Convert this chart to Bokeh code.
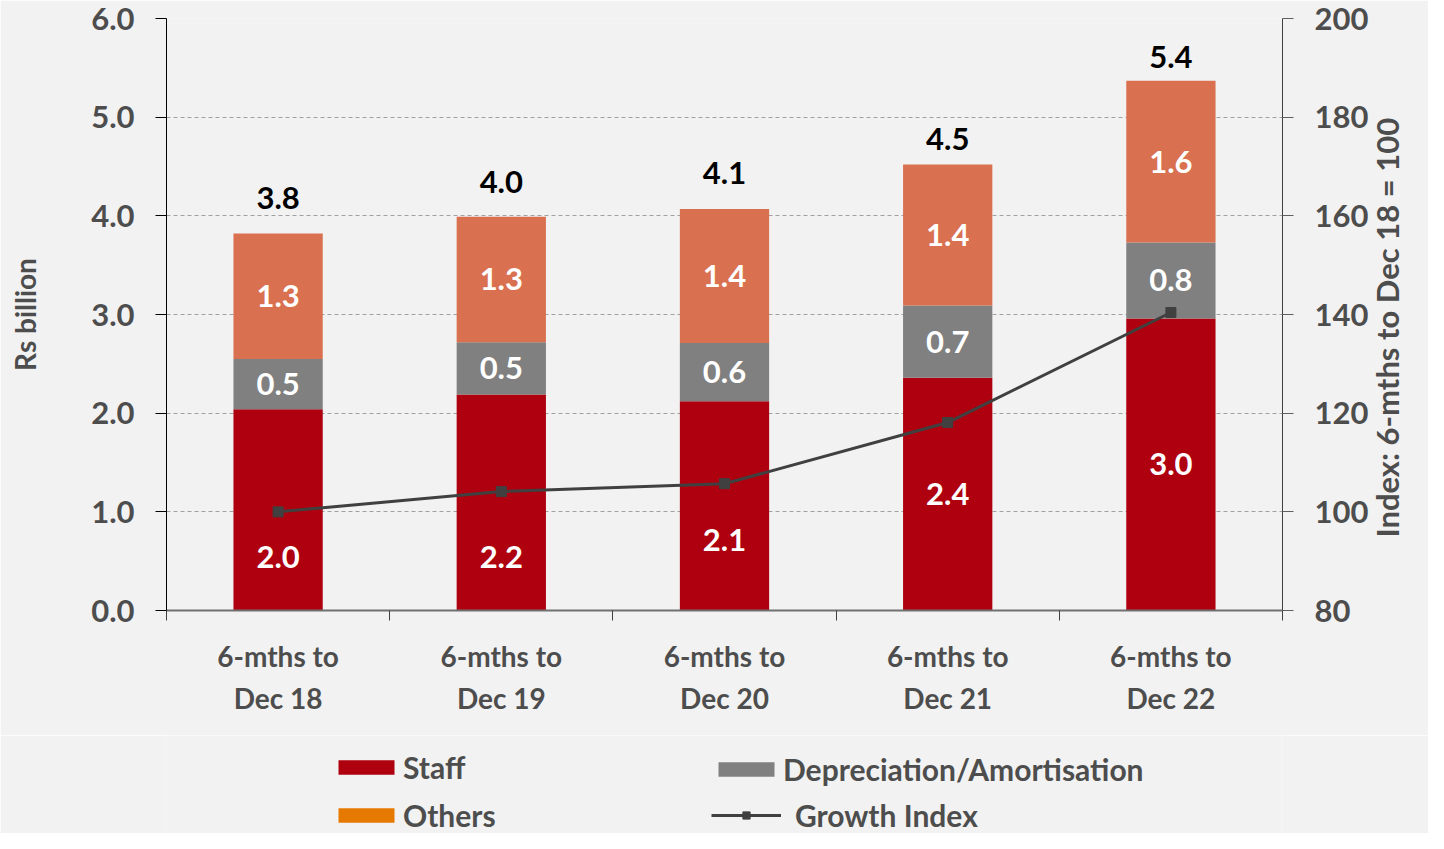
import math
from bokeh.plotting import figure
from bokeh.layouts import column
from bokeh.models import (Range1d, LinearAxis, FixedTicker, ColumnDataSource,
                          Legend, LegendItem)
from bokeh.embed import file_html
from bokeh.resources import INLINE
from bokeh.core.properties import value

# ---------------- data ----------------
categories = ["6-mths to\nDec 18", "6-mths to\nDec 19", "6-mths to\nDec 20",
              "6-mths to\nDec 21", "6-mths to\nDec 22"]
staff = [2.04, 2.19, 2.12, 2.36, 2.96]
depreciation = [0.51, 0.53, 0.59, 0.73, 0.77]
others = [1.27, 1.27, 1.36, 1.43, 1.64]
growth_index = [100.0, 104.1, 105.7, 118.1, 140.4]
left_ticks = [0, 1, 2, 3, 4, 5, 6]
right_ticks = [80, 100, 120, 140, 160, 180, 200]
right_title = "Index: 6-mths to Dec 18 = 100"
legend_labels = ["Staff", "Others", "Depreciation/Amortisation", "Growth Index"]

# ---------------- styles ----------------
FONT = "Lato"
BG = "#F2F2F2"
C_STAFF = "#AE000E"
C_DEP = "#808080"
C_OTH = "#D97150"
C_OTH_LEG = "#E67A00"
C_LINE = "#404040"
C_TXT = "#4D4D4D"
staff_label_y = [0.54, 0.54, 0.71, 1.18, 1.48]   # label placement (data units)
total_label_offset = [36, 35, 36, 26, 24]        # px above the bar top
right_title_start = 94.8                          # where the rotated title begins
NUM_SIZE = "31px"

n = len(categories)
xs = [i + 0.5 for i in range(n)]
s_top = staff
d_top = [a + b for a, b in zip(staff, depreciation)]
o_top = [a + b for a, b in zip(d_top, others)]

W_TOTAL, H_MAIN, H_LEG = 1428, 735, 98

p = figure(width=W_TOTAL, height=H_MAIN, output_backend="svg", toolbar_location=None,
           x_range=Range1d(0, n), y_range=Range1d(0, 6),
           background_fill_color=BG, border_fill_color=BG,
           outline_line_color=None,
           min_border_left=166, min_border_right=145,
           min_border_top=18, min_border_bottom=H_MAIN - 610)
p.extra_y_ranges = {"idx": Range1d(80, 200)}

# bars
src = ColumnDataSource(dict(x=xs, s=s_top, d=d_top, o=o_top))
W = 0.4
p.vbar(x="x", bottom=0, top="s", width=W, source=src, fill_color=C_STAFF, line_color=None)
p.vbar(x="x", bottom="s", top="d", width=W, source=src, fill_color=C_DEP, line_color=None)
p.vbar(x="x", bottom="d", top="o", width=W, source=src, fill_color=C_OTH, line_color=None)

# growth index line
p.line(xs, growth_index, y_range_name="idx", line_color=C_LINE, line_width=3)
p.scatter(xs, growth_index, y_range_name="idx", marker="square", size=10,
          fill_color=C_LINE, line_color=C_LINE)

# labels inside bars
lab_src = ColumnDataSource(dict(
    x=xs * 3,
    y=staff_label_y + [(a + b) / 2 for a, b in zip(s_top, d_top)]
      + [(a + b) / 2 for a, b in zip(d_top, o_top)],
    t=[f"{v:.1f}" for v in staff] + [f"{v:.1f}" for v in depreciation]
      + [f"{v:.1f}" for v in others]))
p.text(x="x", y="y", text="t", source=lab_src, text_color="white",
       text_font=value(FONT), text_font_style="bold", text_font_size=NUM_SIZE,
       text_align="center", text_baseline="middle")

tot_src = ColumnDataSource(dict(x=xs, y=o_top,
                                t=[f"{v:.1f}" for v in o_top],
                                off=[-v for v in total_label_offset]))
p.text(x="x", y="y", text="t", y_offset="off", source=tot_src, text_color="black",
       text_font=value(FONT), text_font_style="bold", text_font_size=NUM_SIZE,
       text_align="center", text_baseline="middle")

# grid
p.xgrid.grid_line_color = None
p.ygrid.ticker = FixedTicker(ticks=left_ticks)
p.ygrid.grid_line_color = "#A0A0A0"
p.ygrid.grid_line_dash = "4 3"
p.ygrid.grid_line_width = 1


def style_labels(ax, size):
    ax.major_label_text_font = FONT
    ax.major_label_text_font_style = "bold"
    ax.major_label_text_font_size = size
    ax.major_label_text_color = C_TXT


# left axis
ya = p.yaxis[0]
ya.ticker = FixedTicker(ticks=left_ticks)
ya.major_label_overrides = {t: f"{t:.1f}" for t in left_ticks}
ya.axis_line_color = "#000000"
ya.major_tick_line_color = "#000000"
ya.major_tick_out = 11
ya.major_tick_in = 0
ya.minor_tick_line_color = None
ya.major_label_standoff = 21
style_labels(ya, NUM_SIZE)
ya.axis_label = "Rs billion"
ya.axis_label_standoff = 46
ya.axis_label_text_font = FONT
ya.axis_label_text_font_style = "bold"
ya.axis_label_text_font_size = "28px"
ya.axis_label_text_color = C_TXT

# right axis
ra = LinearAxis(y_range_name="idx", ticker=FixedTicker(ticks=right_ticks))
ra.axis_line_color = "#404040"
ra.major_tick_line_color = "#606060"
ra.major_tick_out = 11
ra.major_tick_in = 0
ra.minor_tick_line_color = None
ra.major_label_standoff = 21
style_labels(ra, NUM_SIZE)
p.add_layout(ra, "right")

# right axis title (rotated, reading upwards)
ta = LinearAxis(y_range_name="idx", ticker=FixedTicker(ticks=[right_title_start]),
                major_label_overrides={right_title_start: right_title})
ta.axis_line_color = None
ta.major_tick_line_color = None
ta.minor_tick_line_color = None
ta.major_tick_out = 0
ta.major_tick_in = 0
ta.major_label_standoff = 16
ta.major_label_orientation = math.pi / 2
style_labels(ta, "31px")
p.add_layout(ta, "right")

# bottom axis
xa = p.xaxis[0]
xa.ticker = FixedTicker(ticks=xs, minor_ticks=list(range(n + 1)))
xa.major_label_overrides = {x: c for x, c in zip(xs, categories)}
xa.axis_line_color = "#707070"
xa.axis_line_width = 2
xa.major_tick_line_color = None
xa.major_tick_out = 0
xa.major_tick_in = 0
xa.minor_tick_line_color = "#404040"
xa.minor_tick_out = 10
xa.minor_tick_in = 0
xa.major_label_standoff = 18
style_labels(xa, "28px")
xa.major_label_text_line_height = 1.25

# ---------------- legend strip ----------------
lf = figure(width=W_TOTAL, height=H_LEG, output_backend="svg", toolbar_location=None,
            x_range=Range1d(0, 1), y_range=Range1d(0, 1),
            background_fill_color=BG, border_fill_color=BG, outline_line_color=None,
            min_border=0, x_axis_location=None, y_axis_location=None)
lf.grid.visible = False
# legend proxies, kept well outside the visible range of the strip
g_staff = lf.vbar(x=[-9], bottom=[-9], top=[-8], width=0.1, fill_color=C_STAFF, line_color=None)
g_oth = lf.vbar(x=[-9], bottom=[-9], top=[-8], width=0.1, fill_color=C_OTH_LEG, line_color=None)
g_dep = lf.vbar(x=[-9], bottom=[-9], top=[-8], width=0.1, fill_color=C_DEP, line_color=None)
g_line = lf.line(x=[-9, -8], y=[-9, -9], line_color=C_LINE, line_width=3)
g_mark = lf.scatter(x=[-9], y=[-9], marker="square", size=10, fill_color=C_LINE,
                    line_color=C_LINE)


def make_legend(label, renderers, loc, standoff):
    lg = Legend(items=[LegendItem(label=label, renderers=renderers)], location=loc,
                glyph_width=70, glyph_height=18, label_standoff=standoff,
                label_height=30, padding=0, margin=0,
                border_line_color=None, background_fill_alpha=0,
                label_text_font=FONT, label_text_font_style="bold",
                label_text_font_size="30px", label_text_color=C_TXT)
    lf.add_layout(lg, "center")


make_legend(legend_labels[0], [g_staff], (165, 48), 2)
make_legend(legend_labels[1], [g_oth], (165, 0), 2)
make_legend(legend_labels[2], [g_dep], (545, 46), 2)
make_legend(legend_labels[3], [g_line, g_mark], (545, 0), 14)

layout = column(p, lf, spacing=0)
open("out.html", "w").write(file_html(layout, INLINE))
